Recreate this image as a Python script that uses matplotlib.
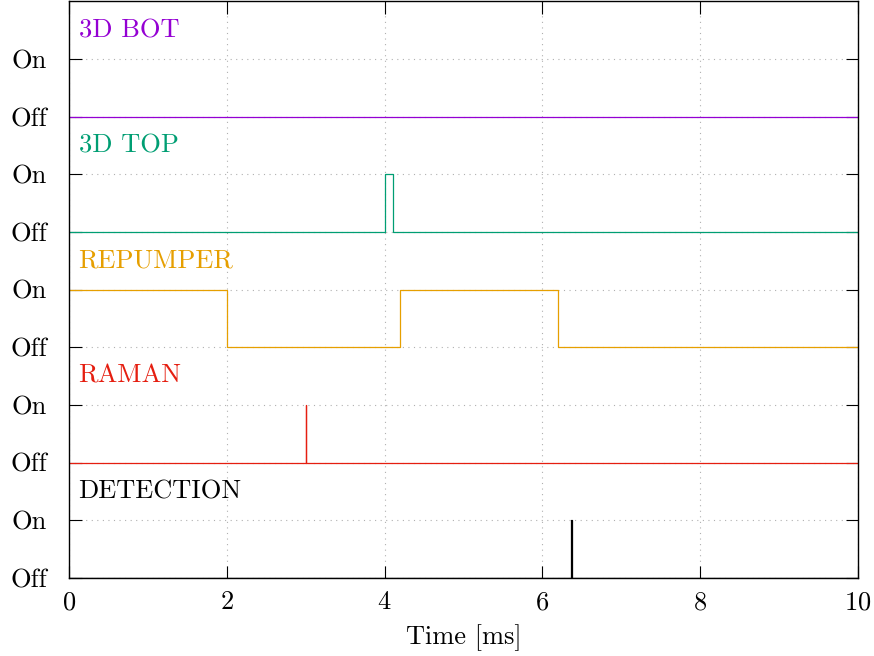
import matplotlib.pyplot as plt
import numpy as np

plt.rcParams["font.family"] = ["cmr10", "DejaVu Serif"]
plt.rcParams["axes.formatter.use_mathtext"] = True

# channel data: transition times [ms] and state after each transition (0 = Off, 1 = On)
names = ["DETECTION", "RAMAN", "REPUMPER", "3D TOP", "3D BOT"]
colors = ["black", "#e51e10", "#e69f00", "#009e73", "#9400d3"]

detection_t = [0, 6.36, 6.38, 10]
detection_s = [0, 1, 0, 0]
raman_t = [0, 3.0, 3.005, 10]
raman_s = [0, 1, 0, 0]
repumper_t = [0, 2.0, 4.2, 6.2, 10]
repumper_s = [1, 0, 1, 0, 0]
top_t = [0, 4.0, 4.1, 10]
top_s = [0, 1, 0, 0]
bot_t = [0, 10]
bot_s = [0, 0]

times = [detection_t, raman_t, repumper_t, top_t, bot_t]
states = [detection_s, raman_s, repumper_s, top_s, bot_s]

fig = plt.figure(figsize=(8.74, 6.56), dpi=100)
ax = fig.add_axes([0.079, 0.119, 0.9027, 0.879])

for i, (t, s) in enumerate(zip(times, states)):
    offset = 2 * i
    ax.step(t, np.array(s) + offset, where="post", color=colors[i], linewidth=0.9)
    ax.text(0.12, offset + 1.5, names[i], color=colors[i], fontsize=19,
            va="center", ha="left")

ax.set_xlim(0, 10)
ax.set_ylim(0, 10)
ax.set_xticks(np.arange(0, 11, 2))
yt = np.arange(0, 10)
ax.set_yticks(yt)
ax.set_yticklabels(["Off", "On"] * 5)
ax.tick_params(direction="in", length=9, width=0.8, labelsize=19,
               top=True, right=True)
ax.tick_params(axis="y", pad=16)
ax.tick_params(axis="x", pad=9)
ax.grid(True, linestyle=(0, (1, 4)), color="#b0b0b0", linewidth=0.8)
ax.set_xlabel("Time [ms]", fontsize=19, labelpad=7)
for sp in ax.spines.values():
    sp.set_linewidth(1.0)

fig.savefig("out.png", dpi=100)
